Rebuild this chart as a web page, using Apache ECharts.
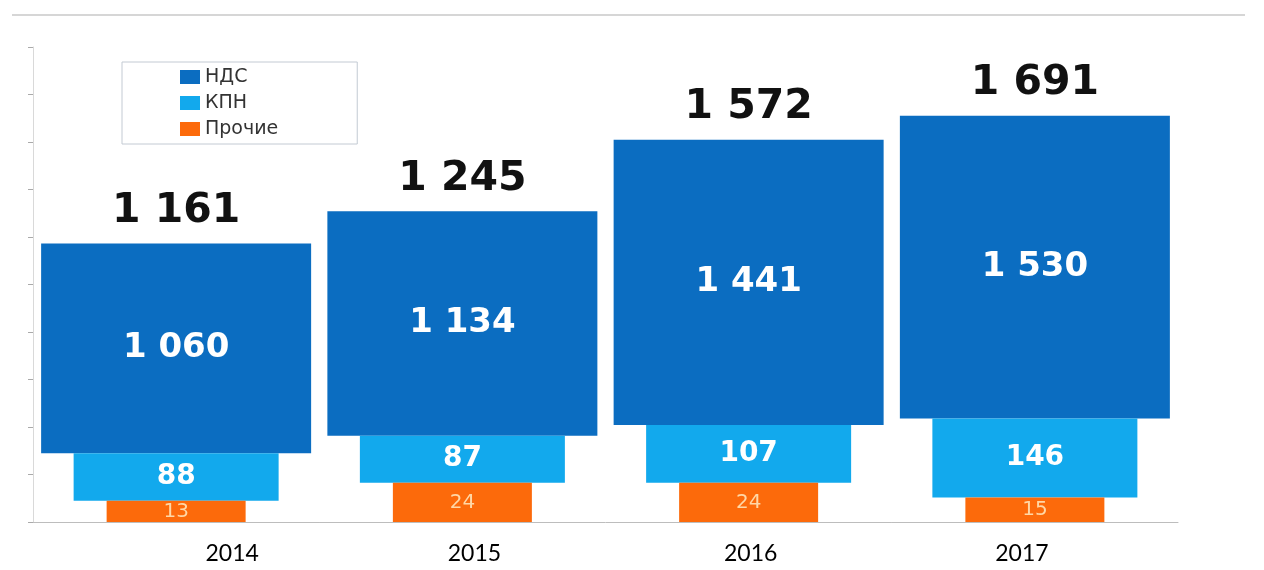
<!DOCTYPE html>
<html>
<head>
<meta charset="utf-8">
<script src="https://cdn.jsdelivr.net/npm/echarts@6/dist/echarts.min.js"></script>
<style>
html,body{margin:0;padding:0;background:#fff;}
#c{width:1264px;height:570px;}
</style>
</head>
<body>
<div id="c"></div>
<script>
// ---- data ----
const categories = ['2014', '2015', '2016', '2017'];
const ndsValues = [1060, 1134, 1441, 1530];
const kpnValues = [88, 87, 107, 146];
const otherValues = [13, 24, 24, 15];
const seriesNames = ['НДС', 'КПН', 'Прочие'];

// ---- layout / style constants ----
const AXIS_MAX_NDS = 2400, AXIS_MAX_KPN = 880, AXIS_MAX_OTHER = 290;
const labelShift = [56, 12, 2, -13];
const COLORS = { nds: '#0b6dc1', kpn: '#12a9ed', other: '#fc6a0b' };
const NUM_FONT = '"DejaVu Sans", Verdana, sans-serif';

const totals = categories.map((_, i) => ndsValues[i] + kpnValues[i] + otherValues[i]);
// bases so that each segment sits on the one below (converted between the axes' scales)
const kpnBase = otherValues.map(v => v * AXIS_MAX_KPN / AXIS_MAX_OTHER);
const ndsBase = otherValues.map((v, i) => v * AXIS_MAX_NDS / AXIS_MAX_OTHER + kpnValues[i] * AXIS_MAX_NDS / AXIS_MAX_KPN);
const fmt = v => String(v).replace(/\B(?=(\d{3})+(?!\d))/g, ' ');

const rich = {};
labelShift.forEach((s, i) => {
  rich['y' + i] = {
    fontFamily: 'Lato', fontSize: 23, color: '#000', lineHeight: 28,
    padding: s >= 0 ? [0, 0, 0, 2 * s] : [0, -2 * s, 0, 0]
  };
});

const hiddenX = idx => ({ type: 'category', data: categories, gridIndex: 0, show: false });
const hiddenY = max => ({ type: 'value', min: 0, max: max, show: false, splitLine: { show: false } });
const transparentBar = { color: 'rgba(0,0,0,0)' };

const chart = echarts.init(document.getElementById('c'), null, { renderer: 'canvas' });
chart.setOption({
  animation: false,
  backgroundColor: '#fff',
  grid: { left: 33, right: 86, top: 47, bottom: 48 },
  legend: {
    data: seriesNames,
    orient: 'vertical',
    left: 122, top: 62,
    padding: [5, 79, 5, 58],
    itemGap: 6,
    itemWidth: 20, itemHeight: 14,
    icon: 'rect',
    borderColor: '#c3cad3', borderWidth: 1,
    backgroundColor: '#fff',
    textStyle: { fontFamily: NUM_FONT, fontSize: 19, color: '#333', lineHeight: 20 }
  },
  graphic: [{
    type: 'line', shape: { x1: 12, y1: 15, x2: 1245, y2: 15 },
    style: { stroke: '#d6d6d6', lineWidth: 2 }, silent: true
  }],
  xAxis: [
    {
      type: 'category', data: categories, gridIndex: 0,
      axisLine: { lineStyle: { color: '#bdbdbd', width: 1 } },
      axisTick: { show: false },
      axisLabel: {
        margin: 18,
        formatter: (v, i) => '{y' + i + '|' + v + '}',
        rich: rich
      }
    },
    hiddenX(1),
    hiddenX(2)
  ],
  yAxis: [
    {
      type: 'value', min: 0, max: AXIS_MAX_NDS, interval: 240,
      axisLine: { show: true, lineStyle: { color: '#d9d9d9' } },
      axisTick: { show: true, length: 5, lineStyle: { color: '#aaa' } },
      axisLabel: { show: false },
      splitLine: { show: false }
    },
    hiddenY(AXIS_MAX_KPN),
    hiddenY(AXIS_MAX_OTHER)
  ],
  series: [
    { name: 'nds-base', type: 'bar', xAxisIndex: 0, yAxisIndex: 0, stack: 'nds', barWidth: 270,
      data: ndsBase, itemStyle: transparentBar, silent: true, emphasis: { disabled: true } },
    { name: 'НДС', type: 'bar', xAxisIndex: 0, yAxisIndex: 0, stack: 'nds', barWidth: 270,
      data: ndsValues, itemStyle: { color: COLORS.nds }, z: 2,
      label: { show: true, position: 'inside', formatter: p => fmt(p.value),
        color: '#fff', fontFamily: NUM_FONT, fontWeight: 'bold', fontSize: 34 } },
    { name: 'total', type: 'bar', xAxisIndex: 0, yAxisIndex: 0, stack: 'nds', barWidth: 270,
      data: categories.map(() => 0), itemStyle: transparentBar, silent: true,
      label: { show: true, position: 'top', distance: 10, formatter: p => fmt(totals[p.dataIndex]),
        color: '#111', fontFamily: NUM_FONT, fontWeight: 'bold', fontSize: 41, lineHeight: 44 } },
    { name: 'kpn-base', type: 'bar', xAxisIndex: 1, yAxisIndex: 1, stack: 'kpn', barWidth: 205,
      data: kpnBase, itemStyle: transparentBar, silent: true, emphasis: { disabled: true } },
    { name: 'КПН', type: 'bar', xAxisIndex: 1, yAxisIndex: 1, stack: 'kpn', barWidth: 205,
      data: kpnValues, itemStyle: { color: COLORS.kpn }, z: 3,
      label: { show: true, position: 'inside', formatter: p => fmt(p.value),
        color: '#fff', fontFamily: NUM_FONT, fontWeight: 'bold', fontSize: 28 } },
    { name: 'Прочие', type: 'bar', xAxisIndex: 2, yAxisIndex: 2, barWidth: 139,
      data: otherValues, itemStyle: { color: COLORS.other }, z: 4,
      label: { show: true, position: 'inside', formatter: p => fmt(p.value),
        color: '#ffd7a6', fontFamily: NUM_FONT, fontSize: 20 } }
  ]
});
</script>
</body>
</html>
